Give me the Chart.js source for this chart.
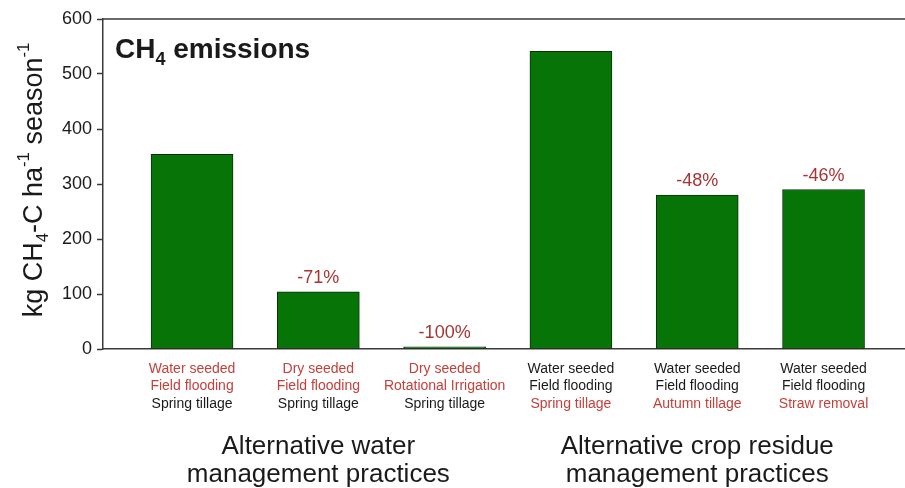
<!DOCTYPE html>
<html>
<head>
<meta charset="utf-8">
<script src="https://cdn.jsdelivr.net/npm/chart.js@4/dist/chart.umd.min.js"></script>
<style>
  html, body { margin: 0; padding: 0; background: #fff; }
  #wrap { width: 905px; height: 488px; }
</style>
</head>
<body>
<div id="wrap"><canvas id="ch4Chart"></canvas></div>
<script>
const FONT = '"Liberation Sans", Arial, sans-serif';

// values
const emissions = [354, 104, 4, 541, 280, 290];
const changeLabels = ['', '-71%', '-100%', '', '-48%', '-46%'];
const labelLines = [
  ['Water seeded', 'Field flooding', 'Spring tillage'],
  ['Dry seeded', 'Field flooding', 'Spring tillage'],
  ['Dry seeded', 'Rotational Irrigation', 'Spring tillage'],
  ['Water seeded', 'Field flooding', 'Spring tillage'],
  ['Water seeded', 'Field flooding', 'Autumn tillage'],
  ['Water seeded', 'Field flooding', 'Straw removal']
];
// 1 = line printed in red
const labelRed = [
  [1, 1, 0], [1, 1, 0], [1, 1, 0],
  [0, 0, 1], [0, 0, 1], [0, 0, 1]
];
const groupLabels = [
  ['Alternative water', 'management practices'],
  ['Alternative crop residue', 'management practices']
];
const groupCenters = [1, 4];
const yMin = 0, yMax = 600, yStep = 100;

const RED = '#c4403a';
const PCT_RED = '#a83434';
const INK = '#1a1a1a';
const AXIS = '#3a3a3a';

// draw a run of text pieces (normal / sub / sup) centred on x
function drawRich(ctx, parts, x, y, size, bold) {
  const w = parts.map(p => {
    const s = p.mode ? size * 0.62 : size;
    ctx.font = (bold ? 'bold ' : '') + s + 'px ' + FONT;
    return ctx.measureText(p.t).width;
  });
  let cx = x - w.reduce((a, b) => a + b, 0) / 2;
  parts.forEach((p, i) => {
    const s = p.mode ? size * 0.62 : size;
    ctx.font = (bold ? 'bold ' : '') + s + 'px ' + FONT;
    let dy = 0;
    if (p.mode === 'sub') dy = size * 0.3;
    if (p.mode === 'sup') dy = -size * 0.38;
    ctx.fillText(p.t, cx, y + dy);
    cx += w[i];
  });
}

const annotations = {
  id: 'annotations',
  afterDatasetsDraw(chart) {
    const ctx = chart.ctx;
    const x = chart.scales.x, y = chart.scales.y;
    const area = chart.chartArea;
    ctx.save();

    // top frame line
    ctx.strokeStyle = AXIS;
    ctx.lineWidth = 1.5;
    ctx.beginPath();
    ctx.moveTo(area.left, area.top);
    ctx.lineTo(area.right, area.top);
    ctx.stroke();

    // percent changes above the bars
    ctx.textAlign = 'center';
    ctx.textBaseline = 'alphabetic';
    ctx.fillStyle = PCT_RED;
    ctx.font = '18px ' + FONT;
    emissions.forEach((v, i) => {
      if (!changeLabels[i]) return;
      ctx.fillText(changeLabels[i], x.getPixelForValue(i), y.getPixelForValue(v) - 9);
    });

    // treatment labels under each bar
    ctx.font = '14px ' + FONT;
    ctx.textBaseline = 'middle';
    labelLines.forEach((lines, i) => {
      const px = x.getPixelForValue(i);
      lines.forEach((t, j) => {
        ctx.fillStyle = labelRed[i][j] ? RED : INK;
        ctx.fillText(t, px, area.bottom + 20 + j * 17.5);
      });
    });

    // group captions
    ctx.fillStyle = INK;
    ctx.font = '26px ' + FONT;
    groupLabels.forEach((lines, g) => {
      const px = x.getPixelForValue(groupCenters[g]);
      lines.forEach((t, j) => ctx.fillText(t, px, 447 + j * 28));
    });

    // panel title
    ctx.textAlign = 'left';
    ctx.textBaseline = 'alphabetic';
    ctx.font = 'bold 28px ' + FONT;
    ctx.fillText('CH', 115, 58);
    let cx = 115 + ctx.measureText('CH').width;
    ctx.font = 'bold 18px ' + FONT;
    ctx.fillText('4', cx, 65);
    cx += ctx.measureText('4').width;
    ctx.font = 'bold 28px ' + FONT;
    ctx.fillText(' emissions', cx, 58);

    // y axis title, rotated
    ctx.translate(35, 180);
    ctx.rotate(-Math.PI / 2);
    ctx.textAlign = 'left';
    ctx.textBaseline = 'middle';
    drawRich(ctx, [
      { t: 'kg CH' }, { t: '4', mode: 'sub' }, { t: '-C ha' }, { t: '-1', mode: 'sup' },
      { t: ' season' }, { t: '-1', mode: 'sup' }
    ], 0, 0, 27, false);

    ctx.restore();
  }
};

const ctx = document.getElementById('ch4Chart').getContext('2d');

new Chart(ctx, {
  type: 'bar',
  data: {
    datasets: [{
      data: emissions.map((v, i) => ({ x: i, y: v })),
      backgroundColor: '#067406',
      borderColor: '#0c2e0c',
      borderWidth: 1,
      borderSkipped: false,
      barThickness: 82
    }]
  },
  options: {
    responsive: true,
    maintainAspectRatio: false,
    animation: false,
    layout: { padding: { top: 19, right: 0, left: 0, bottom: 0 } },
    plugins: {
      legend: { display: false },
      tooltip: { enabled: false }
    },
    scales: {
      x: {
        type: 'linear',
        offset: false,
        min: -0.705,
        max: 5.645,
        ticks: { display: false },
        grid: { display: false },
        border: { display: true, color: AXIS, width: 1.5 },
        afterFit(scale) { scale.height = 139; }
      },
      y: {
        min: yMin,
        max: yMax,
        ticks: {
          stepSize: yStep,
          color: INK,
          padding: 5,
          font: { family: FONT, size: 18 }
        },
        grid: { drawOnChartArea: false, drawTicks: true, tickLength: 6, tickColor: AXIS, tickWidth: 1.5 },
        border: { display: true, color: AXIS, width: 1.5 },
        afterFit(scale) { scale.width = 103; }
      }
    }
  },
  plugins: [annotations]
});
</script>
</body>
</html>
